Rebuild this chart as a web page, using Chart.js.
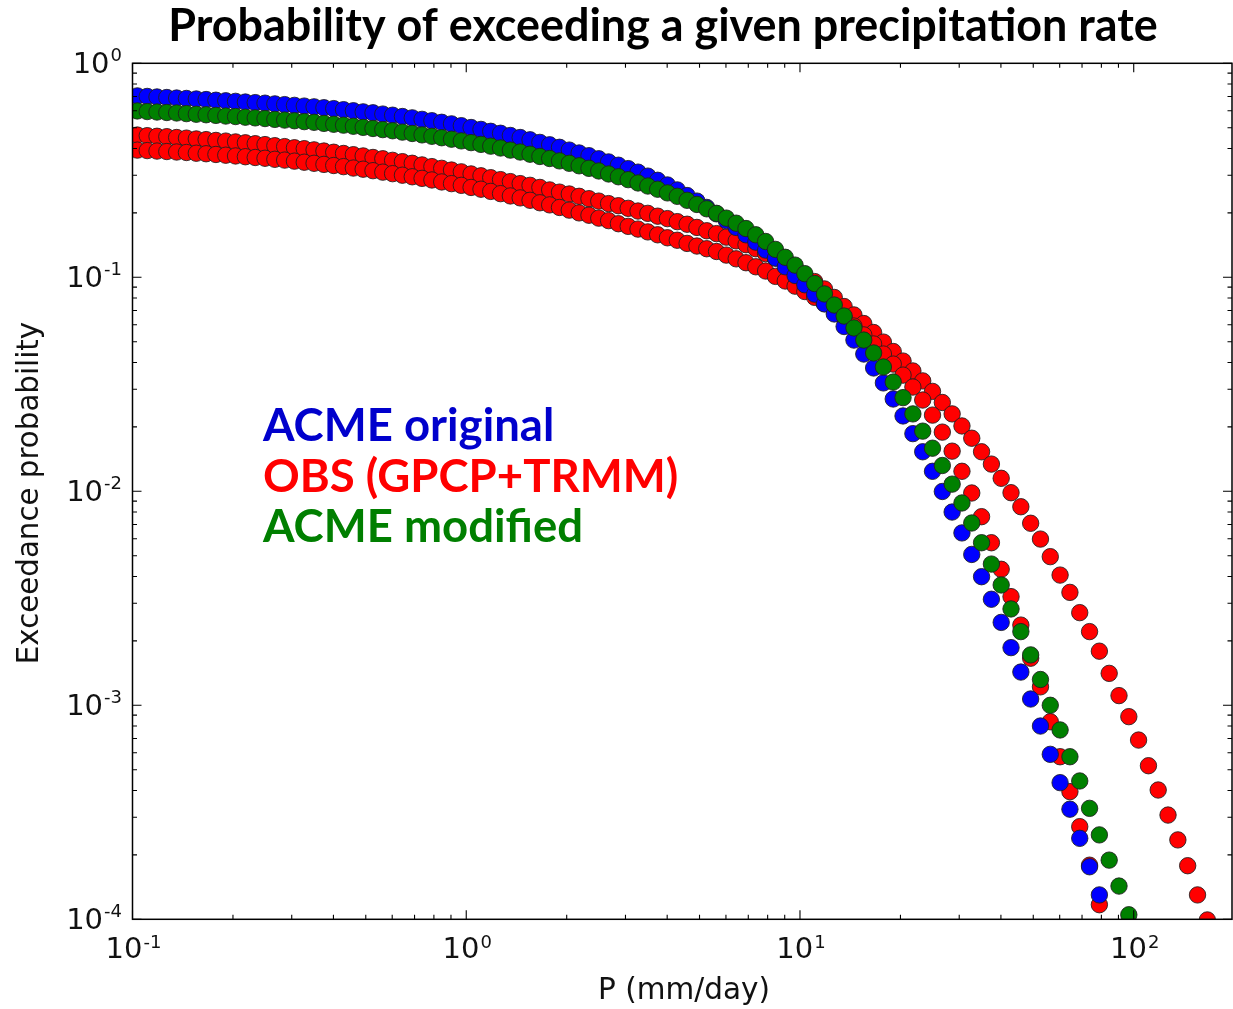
<!DOCTYPE html>
<html><head><meta charset="utf-8">
<script src="https://cdn.jsdelivr.net/npm/chart.js@4.4.1/dist/chart.umd.min.js"></script>
<style>html,body{margin:0;padding:0;background:#fff;}canvas{display:block;}</style>
</head><body>
<canvas id="c" width="1233" height="1009"></canvas>
<script>
// ---- data ----
const precipRate = [
0.1034,0.1107,0.1184,0.1267,0.1356,0.1451,0.1553,0.1662,0.1778,0.1903,
0.2036,0.2179,0.2332,0.2495,0.2670,0.2857,0.3057,0.3271,0.3500,0.3746,
0.4008,0.4289,0.4590,0.4911,0.5255,0.5623,0.6017,0.6439,0.6890,0.7373,
0.7890,0.8443,0.9034,0.9667,
1.034,1.107,1.184,1.267,1.356,1.451,1.553,1.662,1.778,1.903,
2.036,2.179,2.332,2.495,2.670,2.857,3.057,3.271,3.500,3.746,
4.008,4.289,4.590,4.911,5.255,5.623,6.017,6.439,6.890,7.373,
7.890,8.443,9.034,9.667,
10.34,11.07,11.84,12.67,13.56,14.51,15.53,16.62,17.78,19.03,
20.36,21.79,23.32,24.95,26.70,28.57,30.57,32.71,35.00,37.46,
40.08,42.89,45.90,49.11,52.55,56.23,60.17,64.39,68.90,73.73,
78.90,84.43,90.34,96.67,
103.4,110.7,118.4,126.7,135.6,145.1,155.3,166.2];

const acmeOriginal = [
0.704,0.700,0.696,0.692,0.688,0.685,0.681,0.677,0.672,0.668,
0.664,0.659,0.655,0.651,0.646,0.641,0.636,0.631,0.626,0.620,
0.614,0.607,0.600,0.593,0.587,0.579,0.572,0.564,0.556,0.547,
0.539,0.530,0.521,0.511,0.501,0.491,0.481,0.471,0.460,0.450,
0.439,0.427,0.416,0.405,0.393,0.381,0.370,0.358,0.346,0.334,
0.322,0.310,0.297,0.284,0.270,0.256,0.241,0.227,0.212,0.198,
0.184,0.171,0.158,0.146,0.134,0.123,0.112,0.102,0.0923,0.0834,
0.0751,0.0674,0.0589,0.0509,0.0438,0.0377,0.0321,0.0270,0.0225,0.0186,
0.0153,0.0124,0.00998,0.00800,0.00639,0.00507,0.00399,0.00313,0.00244,0.00186,
0.00143,0.00107,0.000800,0.000590,0.000435,0.000327,0.000239,0.000176,0.000130];

const acmeModified = [
0.599,0.595,0.592,0.589,0.586,0.582,0.578,0.575,0.571,0.567,
0.564,0.560,0.556,0.552,0.547,0.543,0.539,0.534,0.530,0.524,
0.519,0.514,0.508,0.502,0.496,0.490,0.484,0.477,0.470,0.463,
0.456,0.449,0.442,0.434,0.426,0.418,0.410,0.402,0.393,0.385,
0.376,0.367,0.359,0.350,0.341,0.332,0.323,0.314,0.304,0.295,
0.286,0.276,0.267,0.258,0.248,0.239,0.229,0.219,0.209,0.199,
0.189,0.179,0.169,0.158,0.147,0.135,0.124,0.114,0.104,0.0935,
0.0836,0.0742,0.0659,0.0580,0.0509,0.0443,0.0381,0.0324,0.0274,0.0230,
0.0191,0.0159,0.0132,0.0108,0.00882,0.00711,0.00575,0.00457,0.00365,0.00282,
0.00221,0.00172,0.00132,0.00100,0.000767,0.000575,0.000443,0.000330,0.000248,0.000189,
0.000143,0.000105];

const obsHeavyTail = [
0.462,0.459,0.456,0.454,0.450,0.447,0.443,0.440,0.436,0.433,
0.429,0.425,0.421,0.417,0.412,0.408,0.403,0.399,0.394,0.389,
0.384,0.379,0.374,0.369,0.363,0.358,0.352,0.347,0.341,0.335,
0.329,0.323,0.317,0.311,0.304,0.298,0.292,0.286,0.280,0.274,
0.269,0.263,0.256,0.250,0.245,0.239,0.233,0.227,0.221,0.216,
0.210,0.204,0.199,0.193,0.188,0.182,0.177,0.171,0.165,0.160,
0.154,0.148,0.142,0.136,0.129,0.123,0.116,0.110,0.102,0.0955,
0.0882,0.0805,0.0730,0.0667,0.0608,0.0552,0.0498,0.0450,0.0406,0.0365,
0.0328,0.0293,0.0260,0.0230,0.0202,0.0177,0.0153,0.0134,0.0115,0.00985,
0.00847,0.00709,0.00598,0.00495,0.00406,0.00337,0.00271,0.00221,0.00179,0.00141,
0.00111,0.000885,0.000688,0.000522,0.000402,0.000307,0.000235,0.000178,0.000130,0.0000993];

const obsLightTail = [
0.393,0.391,0.389,0.387,0.385,0.383,0.380,0.378,0.375,0.372,
0.369,0.366,0.363,0.360,0.356,0.353,0.349,0.345,0.341,0.337,
0.333,0.329,0.324,0.320,0.315,0.310,0.305,0.300,0.295,0.290,
0.285,0.279,0.274,0.269,0.263,0.258,0.252,0.246,0.240,0.235,
0.229,0.223,0.218,0.212,0.206,0.200,0.195,0.189,0.184,0.178,
0.173,0.168,0.163,0.158,0.153,0.149,0.144,0.140,0.136,0.132,
0.127,0.122,0.117,0.112,0.107,0.101,0.0961,0.0909,0.0858,0.0806,
0.0754,0.0700,0.0645,0.0592,0.0538,0.0488,0.0438,0.0393,0.0349,0.0307,
0.0267,0.0227,0.0189,0.0154,0.0124,0.00982,0.00761,0.00575,0.00432,0.00322,
0.00237,0.00166,0.00122,0.000838,0.000575,0.000395,0.000271,0.000179,0.000117];

const xTickValues = [0.1, 1, 10, 100];
const xTickExponents = ['-1', '0', '1', '2'];
const yTickValues = [0.0001, 0.001, 0.01, 0.1, 1];
const yTickExponents = ['-4', '-3', '-2', '-1', '0'];
const titleText = 'Probability of exceeding a given precipitation rate';
const xAxisTitle = 'P (mm/day)';
const yAxisTitle = 'Exceedance probability';
const legendTexts = ['ACME original', 'OBS (GPCP+TRMM)', 'ACME modified'];
const legendColors = ['#0000cc', '#ff0000', '#007f00'];

// ---- helpers ----
const toPoints = ys => ys.map((v, i) => ({x: precipRate[i], y: v}));
const AX = {left: 132.5, top: 63.3, right: 1232, bottom: 919.3};
const W = 1233, H = 1009;
const xMaxLimit = 197;

function fitFont(ctx, text, weight, family, targetW) {
  ctx.font = weight + ' 100px ' + family;
  const w = ctx.measureText(text).width;
  return 100 * targetW / w;
}

function drawPow(ctx, exp, x, y10, yExp, align) {
  ctx.font = '29px "DejaVu Sans"';
  const w1 = ctx.measureText('10').width;
  ctx.font = '18px "DejaVu Sans"';
  const w2 = ctx.measureText(exp).width;
  const total = w1 + 1 + w2;
  const start = align === 'center' ? x - total / 2 : x - total;
  ctx.textAlign = 'left';
  ctx.textBaseline = 'alphabetic';
  ctx.font = '29px "DejaVu Sans"';
  ctx.fillText('10', start, y10);
  ctx.font = '18px "DejaVu Sans"';
  ctx.fillText(exp, start + w1 + 1, yExp);
}

const framePlugin = {
  id: 'frame',
  afterDraw(chart) {
    const {ctx, chartArea: a, scales} = chart;
    const xs = scales.x, ys = scales.y;
    ctx.save();
    ctx.fillStyle = '#000';
    ctx.strokeStyle = '#000';
    // tick marks (inward, all four sides)
    ctx.lineWidth = 1.1;
    ctx.beginPath();
    for (const d of xTickValues) {
      for (let m = 1; m < 10; m++) {
        const v = d * m;
        if (v < xs.min * 0.999 || v > xs.max) continue;
        const p = xs.getPixelForValue(v);
        const L = m === 1 ? 9 : 4.5;
        ctx.moveTo(p, a.bottom); ctx.lineTo(p, a.bottom - L);
        ctx.moveTo(p, a.top); ctx.lineTo(p, a.top + L);
      }
    }
    for (const d of yTickValues) {
      for (let m = 1; m < 10; m++) {
        const v = d * m;
        if (v > ys.max * 1.001) continue;
        const p = ys.getPixelForValue(v);
        const L = m === 1 ? 9 : 4.5;
        ctx.moveTo(a.left, p); ctx.lineTo(a.left + L, p);
        ctx.moveTo(a.right, p); ctx.lineTo(a.right - L, p);
      }
    }
    ctx.stroke();
    // spines
    ctx.lineWidth = 1.5;
    ctx.strokeRect(a.left, a.top, a.right - a.left, a.bottom - a.top);
    // tick labels
    ctx.fillStyle = '#111';
    xTickValues.forEach((v, i) => {
      const p = xs.getPixelForValue(v);
      drawPow(ctx, xTickExponents[i], p + 1, a.bottom + 38.5, a.bottom + 29, 'center');
    });
    yTickValues.forEach((v, i) => {
      const p = ys.getPixelForValue(v);
      drawPow(ctx, yTickExponents[i], 122, p + 9.5, p - 2.5, 'right');
    });
    // axis titles
    let fs = fitFont(ctx, xAxisTitle, 'normal', '"DejaVu Sans"', 172);
    ctx.font = fs.toFixed(1) + 'px "DejaVu Sans"';
    ctx.textAlign = 'center';
    ctx.fillText(xAxisTitle, 684, 999);
    fs = fitFont(ctx, yAxisTitle, 'normal', '"DejaVu Sans"', 342);
    ctx.save();
    ctx.translate(38, 493);
    ctx.rotate(-Math.PI / 2);
    ctx.font = fs.toFixed(1) + 'px "DejaVu Sans"';
    ctx.textAlign = 'center';
    ctx.fillText(yAxisTitle, 0, 0);
    ctx.restore();
    // title
    fs = fitFont(ctx, titleText, 'bold', 'Lato', 990);
    ctx.font = 'bold ' + fs.toFixed(1) + 'px Lato';
    ctx.fillStyle = '#000';
    ctx.textAlign = 'center';
    ctx.fillText(titleText, 663, 41);
    // text legend
    fs = fitFont(ctx, legendTexts[1], 'bold', 'Lato', 415);
    ctx.font = 'bold ' + fs.toFixed(1) + 'px Lato';
    ctx.textAlign = 'left';
    const baselines = [441, 492, 542];
    legendTexts.forEach((t, i) => {
      ctx.fillStyle = legendColors[i];
      ctx.fillText(t, 263, baselines[i]);
    });
    ctx.restore();
  }
};

const pointStyle = (color) => ({
  showLine: false,
  pointRadius: 8.2,
  pointBorderWidth: 1,
  pointBorderColor: 'rgba(30,30,30,0.85)',
  pointBackgroundColor: color,
  backgroundColor: color,
  borderColor: color,
  clip: 0
});

new Chart(document.getElementById('c'), {
  type: 'scatter',
  data: {
    datasets: [
      Object.assign({label: 'ACME modified', data: toPoints(acmeModified)}, pointStyle('#008000')),
      Object.assign({label: 'ACME original', data: toPoints(acmeOriginal)}, pointStyle('#0000ff')),
      Object.assign({label: 'OBS (TRMM)', data: toPoints(obsLightTail)}, pointStyle('#ff0000')),
      Object.assign({label: 'OBS (GPCP)', data: toPoints(obsHeavyTail)}, pointStyle('#ff0000'))
    ]
  },
  options: {
    responsive: false,
    animation: false,
    events: [],
    devicePixelRatio: 1,
    layout: {autoPadding: false, padding: {left: 0, top: AX.top, right: W - AX.right, bottom: 0}},
    plugins: {legend: {display: false}, title: {display: false}, tooltip: {enabled: false}},
    scales: {
      x: {
        type: 'logarithmic', min: 0.1, max: xMaxLimit,
        grid: {display: false}, border: {display: false},
        ticks: {display: false},
        afterFit(s) { s.height = H - AX.bottom; }
      },
      y: {
        type: 'logarithmic', min: 0.0001, max: 1,
        grid: {display: false}, border: {display: false},
        ticks: {display: false},
        afterFit(s) { s.width = AX.left; }
      }
    }
  },
  plugins: [framePlugin]
});
</script>
</body></html>
